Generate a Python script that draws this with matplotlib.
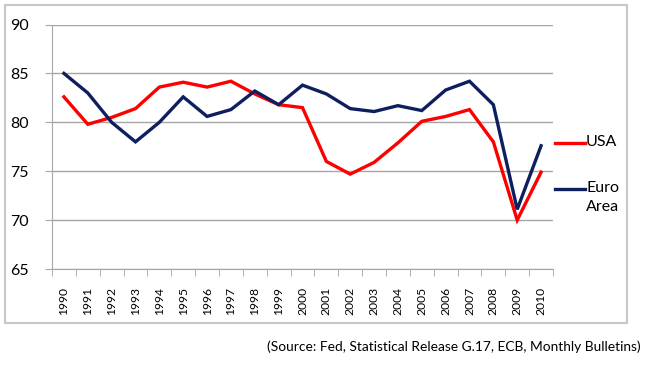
import matplotlib.pyplot as plt
from matplotlib.patches import Rectangle
import numpy as np

years = [str(y) for y in range(1990, 2011)]
usa = [82.6, 79.8, 80.5, 81.4, 83.6, 84.1, 83.6, 84.2, 82.9, 81.8, 81.5,
       76.0, 74.7, 75.9, 77.9, 80.1, 80.6, 81.3, 78.0, 70.0, 74.9]
euro = [85.0, 83.0, 80.0, 78.0, 80.0, 82.6, 80.6, 81.3, 83.2, 81.8, 83.8,
        82.9, 81.4, 81.1, 81.7, 81.2, 83.3, 84.2, 81.8, 71.1, 77.6]
yticks = [65, 70, 75, 80, 85, 90]
series_names = ['USA', 'Euro\nArea']
series_colors = ['#ff0000', '#0d1f5e']
source = "(Source: Fed, Statistical Release G.17, ECB, Monthly Bulletins)"

plt.rcParams['font.family'] = ['Lato', 'DejaVu Sans']

fig = plt.figure(figsize=(6.51, 3.73), dpi=100)
ax = fig.add_axes([52/651, 1 - 269/373, 501/651, 244.5/373])

x = np.arange(len(years))
for vals, name, col in zip([usa, euro], series_names, series_colors):
    ax.plot(x, vals, color=col, lw=2.4, solid_joinstyle='miter')

ax.set_xlim(-0.5, len(years) - 0.5)
ax.set_ylim(65, 90)
ax.set_yticks(yticks)
ax.set_yticklabels([str(v) for v in yticks], fontsize=11.5)
ax.yaxis.grid(True, color='#a6a6a6', lw=1)
ax.set_axisbelow(True)

ax.set_xticks(x)
ax.set_xticklabels(years, rotation=90, fontsize=8.7)
ax.set_xticks(np.arange(-0.5, len(years)), minor=True)
ax.tick_params(axis='x', which='major', length=0, pad=13)
ax.tick_params(axis='x', which='minor', length=5, color='#a6a6a6')
ax.tick_params(axis='y', length=5, color='#a6a6a6', pad=12)

for s in ['top', 'right']:
    ax.spines[s].set_visible(False)
for s in ['left', 'bottom']:
    ax.spines[s].set_color('#a6a6a6')

# legend drawn by hand so the handle sits on the first text line
leg_y = [143, 189]
for name, col, yy in zip(series_names, series_colors, leg_y):
    fy = 1 - yy/373
    fig.lines.append(plt.Line2D([555/651, 585/651], [fy, fy], color=col, lw=2.4,
                                transform=fig.transFigure))
    fig.text(586/651, fy, name, ha='left', va='top', fontsize=11.5,
             linespacing=1.45, transform=fig.transFigure).set_y(fy + 8/373)

fig.patches.append(Rectangle((5/651, 1 - 323/373), 622/651, 318/373,
                             transform=fig.transFigure, fill=False,
                             edgecolor='#c8c8c8', lw=1.5))
fig.text(641/651, 1 - 347/373, source, ha='right', va='center', fontsize=9.9)

fig.savefig('out.png', dpi=100)
